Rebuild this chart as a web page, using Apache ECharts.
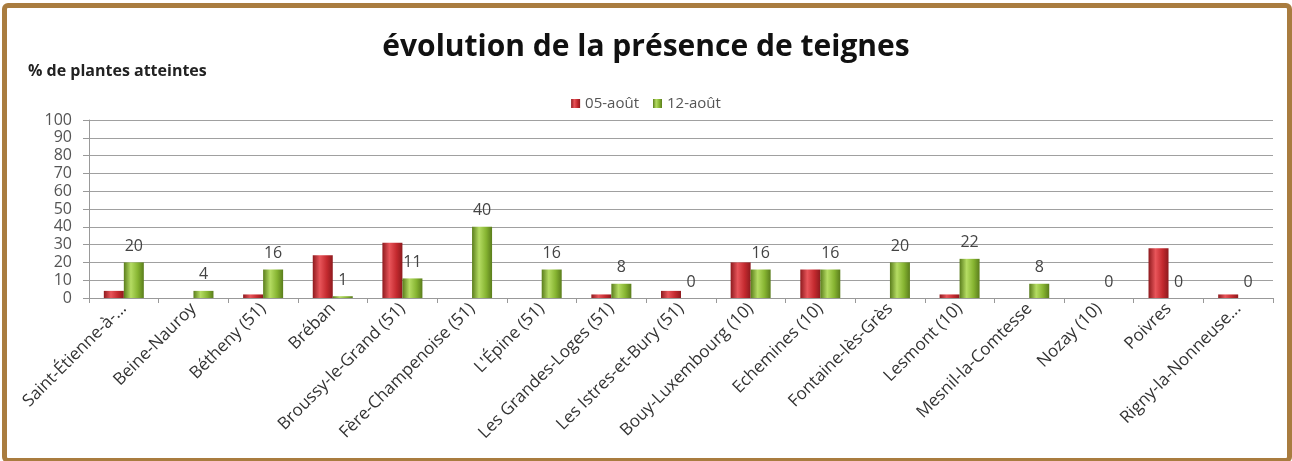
<!DOCTYPE html>
<html>
<head>
<meta charset="utf-8">
<script src="https://cdn.jsdelivr.net/npm/echarts@6/dist/echarts.min.js"></script>
<style>
  html, body { margin: 0; padding: 0; background: #fff; }
  #container_chart { width: 1292px; height: 461px; }
  #frame {
    position: absolute; left: 2px; top: 3px; width: 1280px; height: 450px;
    border: 5px solid #a97c3f; border-radius: 6px; pointer-events: none;
  }
</style>
</head>
<body>
<div id="container_chart"></div>
<div id="frame"></div>
<script>
const categories = [
    'Saint-Étienne-à-...', 'Beine-Nauroy', 'Bétheny (51)', 'Bréban', 'Broussy-le-Grand (51)',
    'Fère-Champenoise (51)', "L'Épine (51)", 'Les Grandes-Loges (51)', 'Les Istres-et-Bury (51)',
    'Bouy-Luxembourg (10)', 'Echemines (10)', 'Fontaine-lès-Grès', 'Lesmont (10)',
    'Mesnil-la-Comtesse', 'Nozay (10)', 'Poivres', 'Rigny-la-Nonneuse...'
]

const aout05 = [4, 0, 2, 24, 31, 0, 0, 2, 4, 20, 16, 0, 2, 0, 0, 28, 2]
const aout12 = [20, 4, 16, 1, 11, 40, 16, 8, 0, 16, 16, 20, 22, 8, 0, 0, 0]

const yTicks = [0, 10, 20, 30, 40, 50, 60, 70, 80, 90, 100]

const font = '"Open Sans", "DejaVu Sans", sans-serif'

function cyl(dark, mid, light) {
    return new echarts.graphic.LinearGradient(0, 0, 1, 0, [
        { offset: 0, color: dark },
        { offset: 0.35, color: light },
        { offset: 0.7, color: mid },
        { offset: 1, color: dark }
    ])
}

let chart = echarts.init(document.getElementById('container_chart'))
chart.setOption({
    animation: false,
    textStyle: { fontFamily: font },
    title: {
        text: 'évolution de la présence de teignes',
        left: 'center',
        top: 27,
        textStyle: { fontSize: 30, fontWeight: 'bold', color: '#111', fontFamily: font }
    },
    legend: {
        top: 91,
        left: 'center',
        itemWidth: 9,
        itemHeight: 9,
        itemGap: 14,
        icon: 'rect',
        textStyle: { fontSize: 15, color: '#555', fontFamily: font },
        data: ['05-août', '12-août']
    },
    grid: { left: 89, right: 19, top: 120, bottom: 163 },
    xAxis: {
        type: 'category',
        data: categories,
        axisLine: { lineStyle: { color: '#999' } },
        axisTick: { show: true, alignWithLabel: false, length: 5, lineStyle: { color: '#999' } },
        axisLabel: {
            rotate: 45,
            interval: 0,
            fontSize: 17,
            color: '#333',
            margin: 8,
            fontFamily: font
        }
    },
    yAxis: {
        type: 'value',
        min: yTicks[0],
        max: yTicks[yTicks.length - 1],
        interval: 10,
        name: '% de plantes atteintes',
        nameLocation: 'end',
        nameGap: 41,
        nameTextStyle: { fontSize: 16, fontWeight: 'bold', color: '#222', align: 'left', padding: [0, 0, 0, -61] },
        axisLine: { show: true, lineStyle: { color: '#999' } },
        axisTick: { show: true, length: 6, lineStyle: { color: '#999' } },
        axisLabel: { fontSize: 16, color: '#555', margin: 17, fontFamily: font },
        splitLine: { lineStyle: { color: '#a0a0a0', width: 1 } }
    },
    series: [
        {
            name: '05-août',
            type: 'bar',
            data: aout05,
            barWidth: 20,
            barGap: '0%',
            itemStyle: { color: cyl('#8e1a1e', '#c42a2f', '#e8555a') }
        },
        {
            name: '12-août',
            type: 'bar',
            data: aout12,
            barWidth: 20,
            itemStyle: { color: cyl('#5a7d1c', '#86b431', '#b5dc63') },
            label: {
                show: true,
                position: 'top',
                distance: 8,
                fontSize: 16,
                color: '#444',
                fontFamily: font
            }
        }
    ],
    color: ['#c42a2f', '#86b431']
})
</script>
</body>
</html>
